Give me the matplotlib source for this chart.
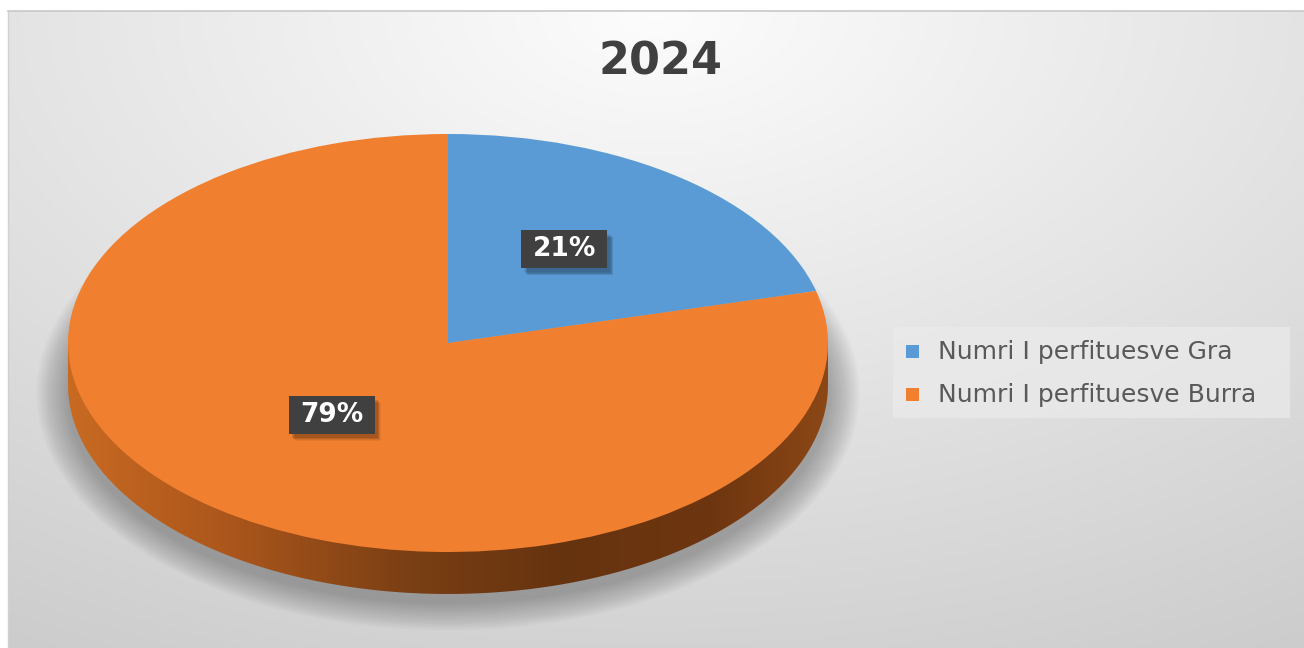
import numpy as np
import matplotlib
matplotlib.use("Agg")
import matplotlib.pyplot as plt
from matplotlib.transforms import Affine2D
from matplotlib.patches import Ellipse, Rectangle, PathPatch
from matplotlib.path import Path
from matplotlib.colors import LinearSegmentedColormap

title = "2024"
labels = ["Numri I perfituesve Gra", "Numri I perfituesve Burra"]
values = [21, 79]
colors = ["#5b9bd5", "#f0802f"]

W, H = 1304, 648
fig = plt.figure(figsize=(W / 100, H / 100), dpi=100)
fig.patch.set_facecolor("white")
ax = fig.add_axes([0, 0, 1, 1])
ax.set_xlim(0, W)
ax.set_ylim(0, H)
ax.axis("off")

# background gradient (chart area)
x0, y0, x1, y1 = 8, 0, W, H - 11
yy, xx = np.mgrid[0:200, 0:400]
gx = xx / 399.0
gy = yy / 199.0  # 0 bottom, 1 top
d = np.sqrt(((gx - 0.5) * 1.2) ** 2 + ((1 - gy) * 1.0) ** 2)
val = 0.99 - 0.17 * np.clip(d, 0, 1.2) / 1.2 * 1.15
val = np.clip(val, 0.8, 1)
bg = np.dstack([val, val, val])
ax.imshow(bg, extent=[x0, x1, y0, y1], origin="lower", aspect="auto", zorder=0,
          interpolation="bicubic")
ax.plot([x0, x1], [y1, y1], color="#c8c8c8", lw=1.2, zorder=1)
ax.plot([x0, x0], [y0, y1], color="#d0d0d0", lw=1.0, zorder=1)

# pie geometry (pixel coords, y up)
cx, cy = 448, H - 343
R = 380
ratio = 0.55
depth = 42
squash = Affine2D().translate(-cx, -cy).scale(1, ratio).translate(cx, cy)

# soft shadow (mostly below the pie)
for i in range(18):
    grow = 4 + i * 3.5
    ax.add_patch(Ellipse((cx, cy - depth - 8), 2 * R + grow, 2 * R * ratio + grow * 0.9,
                         facecolor="black", edgecolor="none", alpha=0.014, zorder=2))

# side of the cylinder with gradient
th = np.linspace(np.pi, 2 * np.pi, 200)
ex = cx + R * np.cos(th)
ey_top = cy + R * ratio * np.sin(th)
verts = [(cx - R, cy)] + list(zip(ex, ey_top - depth)) + [(cx + R, cy), (cx - R, cy)]
side_patch = PathPatch(Path(verts), facecolor="none", edgecolor="none")
ax.add_patch(side_patch)
cmap = LinearSegmentedColormap.from_list(
    "side", [(0, "#c86a22"), (0.2, "#ad571c"), (0.45, "#7a3f14"), (0.65, "#66330f"),
             (0.85, "#6e3610"), (1, "#8c4716")])
grad = np.linspace(0, 1, 256).reshape(1, -1)
im = ax.imshow(grad, extent=[cx - R, cx + R, cy - R * ratio - depth, cy], cmap=cmap,
               aspect="auto", origin="lower", zorder=3)
im.set_clip_path(side_patch)

# top face pie
wedges, texts, autotexts = ax.pie(
    values, colors=colors, startangle=90, counterclock=False, center=(cx, cy),
    radius=R, autopct="%1.0f%%", pctdistance=0.5, frame=False,
    wedgeprops=dict(linewidth=0),
    textprops=dict(color="white", fontsize=19, fontweight="bold", family="DejaVu Sans"))
ax.set_xlim(0, W)
ax.set_ylim(0, H)
ax.set_aspect("auto")
for w in wedges:
    w.set_transform(squash + ax.transData)
    w.set_zorder(4)

label_shift = Affine2D().translate(0, 11)
for t in autotexts:
    tr = squash + label_shift
    px, py = tr.transform(t.get_position())
    t.set_position((px, py))
    t.set_transform(ax.transData)
    t.set_zorder(7)
    bw, bh = 86, 38
    for k in range(6):
        ax.add_patch(Rectangle((px - bw / 2 + 3 + k * 0.6, py - bh / 2 - 4 - k * 0.6), bw, bh,
                               facecolor="black", edgecolor="none", alpha=0.06, zorder=5))
    ax.add_patch(Rectangle((px - bw / 2, py - bh / 2), bw, bh, facecolor="#404040",
                           edgecolor="none", zorder=6))

# title
ax.text(661, H - 62, title, ha="center", va="center", fontsize=32, fontweight="bold",
        color="#404040", family="DejaVu Sans", zorder=6)

# legend
ax.add_patch(Rectangle((893, H - 418), 397, 91, facecolor="#ebebeb", edgecolor="none",
                       alpha=0.7, zorder=5))
leg_y = [352, 395]
for lab, col, yv in zip(labels, colors, leg_y):
    ax.add_patch(Rectangle((906, H - yv - 6), 13, 13, facecolor=col, edgecolor="none", zorder=6))
    ax.text(938, H - yv, lab, ha="left", va="center", fontsize=18, color="#595959",
            family="DejaVu Sans", zorder=6)

fig.savefig("out.png", dpi=100, facecolor=fig.get_facecolor())
